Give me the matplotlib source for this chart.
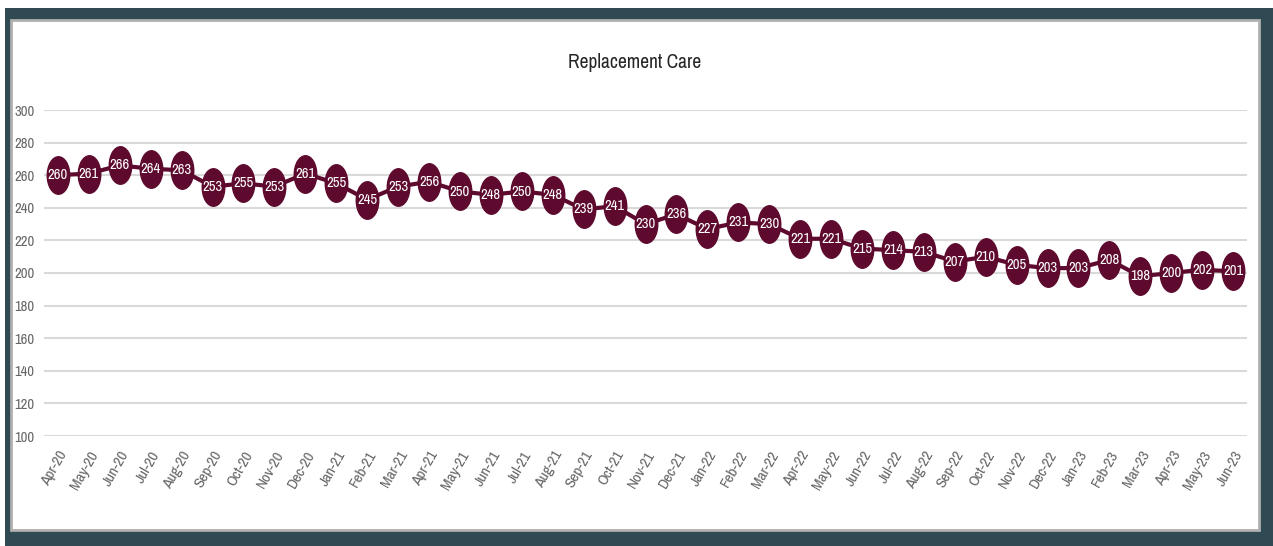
import matplotlib.pyplot as plt
from matplotlib import font_manager
from matplotlib.patches import Rectangle
from matplotlib.path import Path
from matplotlib.markers import MarkerStyle
from matplotlib.transforms import Affine2D

months = ["Apr-20", "May-20", "Jun-20", "Jul-20", "Aug-20", "Sep-20", "Oct-20", "Nov-20",
          "Dec-20", "Jan-21", "Feb-21", "Mar-21", "Apr-21", "May-21", "Jun-21", "Jul-21",
          "Aug-21", "Sep-21", "Oct-21", "Nov-21", "Dec-21", "Jan-22", "Feb-22", "Mar-22",
          "Apr-22", "May-22", "Jun-22", "Jul-22", "Aug-22", "Sep-22", "Oct-22", "Nov-22",
          "Dec-22", "Jan-23", "Feb-23", "Mar-23", "Apr-23", "May-23", "Jun-23"]
values = [260, 261, 266, 264, 263, 253, 255, 253, 261, 255, 245, 253, 256, 250, 248, 250,
          248, 239, 241, 230, 236, 227, 231, 230, 221, 221, 215, 214, 213, 207, 210, 205,
          203, 203, 208, 198, 200, 202, 201]
y_ticks = list(range(100, 301, 20))

maroon = "#5e0a2e"
slate = "#2f4a53"
W, H = 1273, 546

# pick a narrow font if one is installed
names = sorted({f.name for f in font_manager.fontManager.ttflist})
narrow = [n for n in names if "Narrow" in n or "Condensed" in n]
plt.rcParams['font.family'] = narrow[:1] + ['DejaVu Sans']

fig = plt.figure(figsize=(W / 100, H / 100), dpi=100)
fig.patch.set_facecolor("white")

# frame: dark border + white panel
fig.patches.append(Rectangle((5 / W, 0), 1 - 5 / W, 1 - 8 / H, transform=fig.transFigure,
                             facecolor=slate, edgecolor="none", zorder=-10))
fig.patches.append(Rectangle((11 / W, 16 / H), 1248 / W, 510 / H, transform=fig.transFigure,
                             facecolor="white", edgecolor="#b0b0b0", linewidth=2, zorder=-9))

ax = fig.add_axes([44 / W, 1 - 436 / H, (1247 - 44) / W, 326 / H])
ax.set_facecolor("none")

x = list(range(len(months)))
ellipse = Path.unit_circle().transformed(Affine2D().scale(0.6, 1.0))
ax.plot(x, values, color=maroon, linewidth=3, marker=MarkerStyle(ellipse),
        markersize=27, markerfacecolor=maroon, markeredgecolor=maroon, clip_on=False, zorder=3)
for xi, v in zip(x, values):
    ax.text(xi, v, str(v), color="white", ha="center", va="center", fontsize=10.5,
            zorder=4)

ax.set_xlim(-0.45, len(months) - 1 + 0.45)
ax.set_ylim(100, 300)
ax.set_yticks(y_ticks)
ax.grid(axis="y", color="#d9d9d9", linewidth=1.5)
ax.set_axisbelow(True)
for s in ax.spines.values():
    s.set_visible(False)
ax.tick_params(axis="both", length=0, colors="#666666", labelsize=10.5)
ax.tick_params(axis="y", pad=7)
ax.set_xticks(x)
ax.set_xticklabels(months, rotation=60, ha="right", rotation_mode="anchor", fontsize=11)
ax.tick_params(axis="x", pad=9)

fig.text(635 / W, 1 - 63 / H, "Replacement Care", ha="center", va="center",
         fontsize=14, color="#262626")

fig.savefig("out.png", dpi=100)
